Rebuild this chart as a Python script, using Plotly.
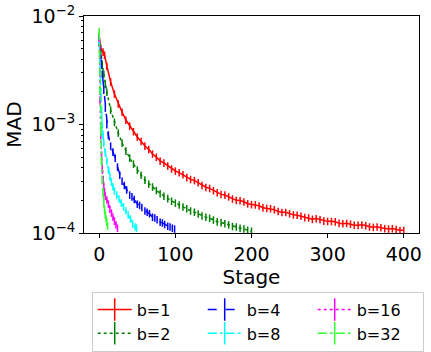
import plotly.graph_objects as go

# b=1
stage_b1 = [0, 2, 5, 7, 10, 15, 20, 25, 30, 35] + list(range(40, 401, 5))
mad_b1 = [6.5e-3, 5.07e-3, 4.66e-3, 4.37e-3, 3.46e-3, 2.47e-3, 1.91e-3, 1.55e-3, 1.30e-3,
          1.10e-3,
          9.68e-4, 8.6e-4, 7.67e-4, 7.0e-4, 6.34e-4, 5.9e-4, 5.35e-4, 5.0e-4, 4.61e-4,
          4.42e-4, 4.15e-4, 3.90e-4, 3.73e-4, 3.60e-4, 3.45e-4, 3.25e-4, 3.12e-4, 3.05e-4,
          2.92e-4, 2.75e-4, 2.64e-4, 2.58e-4, 2.46e-4, 2.36e-4, 2.27e-4, 2.24e-4, 2.16e-4,
          2.06e-4, 2.00e-4, 1.99e-4, 1.94e-4, 1.86e-4, 1.83e-4, 1.82e-4, 1.78e-4, 1.71e-4,
          1.69e-4, 1.68e-4, 1.64e-4, 1.58e-4, 1.55e-4, 1.55e-4, 1.51e-4, 1.47e-4, 1.46e-4,
          1.43e-4, 1.39e-4, 1.38e-4, 1.34e-4, 1.36e-4, 1.33e-4, 1.29e-4, 1.28e-4, 1.28e-4,
          1.27e-4, 1.23e-4, 1.22e-4, 1.23e-4, 1.21e-4, 1.18e-4, 1.18e-4, 1.19e-4, 1.17e-4,
          1.14e-4, 1.13e-4, 1.14e-4, 1.12e-4, 1.10e-4, 1.09e-4, 1.10e-4, 1.08e-4, 1.06e-4,
          1.06e-4]

# b=2
stage_b2 = [0, 2, 4, 6, 8, 10, 15, 20, 25, 30, 35, 40, 45, 50, 55, 60, 65, 70, 75, 80, 85,
            90, 95, 100, 105, 110, 115, 120, 125, 130, 135, 140, 145, 150, 155, 160, 165,
            170, 175, 180, 185, 190, 195, 200]
mad_b2 = [6.27e-3, 4.37e-3, 3.61e-3, 2.92e-3, 2.36e-3, 1.99e-3, 1.36e-3, 1.05e-3, 8.36e-4,
          6.76e-4, 5.70e-4, 4.91e-4, 4.32e-4, 3.81e-4, 3.42e-4, 3.08e-4, 2.83e-4, 2.66e-4,
          2.47e-4, 2.31e-4, 2.19e-4, 2.08e-4, 1.97e-4, 1.89e-4, 1.82e-4, 1.74e-4, 1.68e-4,
          1.60e-4, 1.56e-4, 1.50e-4, 1.44e-4, 1.40e-4, 1.37e-4, 1.32e-4, 1.27e-4, 1.25e-4,
          1.22e-4, 1.19e-4, 1.15e-4, 1.14e-4, 1.11e-4, 1.09e-4, 1.06e-4, 1.04e-4]

# b=4
stage_b4 = [0, 2, 4, 6, 8, 10, 12, 15, 18, 21, 24, 27, 30, 33, 36, 40, 43, 46, 50, 53, 56,
            60, 63, 66, 70, 73, 76, 80, 83, 86, 90, 93, 96, 99]
mad_b4 = [5.75e-3, 4.10e-3, 2.92e-3, 2.08e-3, 1.42e-3, 1.00e-3, 8.00e-4, 6.34e-4, 5.58e-4,
          4.91e-4, 4.06e-4, 3.42e-4, 3.01e-4, 2.75e-4, 2.50e-4, 2.24e-4, 2.16e-4, 2.04e-4,
          1.85e-4, 1.80e-4, 1.72e-4, 1.60e-4, 1.56e-4, 1.51e-4, 1.40e-4, 1.38e-4, 1.33e-4,
          1.26e-4, 1.24e-4, 1.20e-4, 1.16e-4, 1.14e-4, 1.11e-4, 1.09e-4]

# b=8
stage_b8 = [0, 1, 2, 3, 4, 5, 6, 8, 10, 12, 14, 16, 18, 20, 23, 26, 29, 32, 35, 38, 41, 44,
            47, 49]
mad_b8 = [6.0e-3, 3.18e-3, 1.99e-3, 1.36e-3, 9.89e-4, 7.83e-4, 6.76e-4, 5.46e-4, 4.61e-4,
          3.81e-4, 3.28e-4, 2.95e-4, 2.66e-4, 2.44e-4, 2.24e-4, 2.06e-4, 1.89e-4, 1.74e-4,
          1.60e-4, 1.47e-4, 1.35e-4, 1.21e-4, 1.14e-4, 1.11e-4]

# b=16
stage_b16 = [0, 1, 2, 3, 4, 5, 6, 7, 8, 10, 12, 14, 16, 18, 20, 22, 24]
mad_b16 = [6.27e-3, 1.68e-3, 8.0e-4, 5.24e-4, 3.81e-4, 3.08e-4, 2.66e-4, 2.39e-4, 2.19e-4,
           2.02e-4, 1.85e-4, 1.66e-4, 1.53e-4, 1.40e-4, 1.29e-4, 1.19e-4, 1.11e-4]

# b=32
stage_b32 = [0, 1, 2, 3, 4, 5, 6, 7, 8, 9, 10, 11]
mad_b32 = [7.2e-3, 2.08e-3, 8.89e-4, 4.71e-4, 3.08e-4, 2.34e-4, 1.89e-4, 1.63e-4, 1.47e-4,
           1.35e-4, 1.26e-4, 1.16e-4]

series = [
    ("b=1", stage_b1, mad_b1, "#ff0000", "solid", 1),
    ("b=2", stage_b2, mad_b2, "#008000", "dot", 4),
    ("b=4", stage_b4, mad_b4, "#0000ff", "dash", 2),
    ("b=8", stage_b8, mad_b8, "#00ffff", "dashdot", 5),
    ("b=16", stage_b16, mad_b16, "#ff00ff", "dot", 3),
    ("b=32", stage_b32, mad_b32, "#33ff33", "dashdot", 6),
]

fig = go.Figure()
for name, xs, ys, col, dash, rank in series:
    fig.add_trace(go.Scatter(
        x=xs, y=ys, mode="lines", showlegend=False,
        line=dict(color=col, width=1.5, dash=dash),
        error_y=dict(type="percent", value=8, color=col, thickness=1.5, width=0),
    ))
    # legend entry with vertical tick like matplotlib errorbar
    fig.add_trace(go.Scatter(
        x=[None], y=[None], mode="lines+markers", name=name, legendrank=rank,
        line=dict(color=col, width=1.5, dash=dash),
        marker=dict(symbol="line-ns", size=16, line=dict(color=col, width=1.5)),
    ))

minor_y = [m * 10.0 ** e for e in (-4, -3) for m in range(2, 10)]

fig.update_layout(
    width=431, height=352,
    margin=dict(l=84, r=12, t=16, b=119, autoexpand=False),
    plot_bgcolor="white", paper_bgcolor="white",
    font=dict(family="DejaVu Sans", color="black", size=19),
    legend=dict(
        orientation="h", x=0.023, y=-0.27, xanchor="left", yanchor="top",
        bordercolor="#cccccc", borderwidth=1, font=dict(size=16),
        entrywidth=61, entrywidthmode="pixels", itemwidth=34,
        tracegroupgap=0,
    ),
)
fig.update_xaxes(
    range=[-20, 420], tickvals=[0, 100, 200, 300, 400], automargin=False,
    showline=True, linecolor="black", linewidth=1, mirror=True,
    ticks="outside", ticklen=4, tickcolor="black", showgrid=False, zeroline=False,
    ticklabeloverflow="allow",
    title=dict(text="Stage", font=dict(size=20), standoff=0),
)
fig.update_yaxes(
    type="log", range=[-4, -2], automargin=False,
    tickvals=[1e-4, 1e-3, 1e-2],
    ticktext=["10<sup>−4</sup>", "10<sup>−3</sup>", "10<sup>−2</sup>"],
    showline=True, linecolor="black", linewidth=1, mirror=True,
    ticks="outside", ticklen=4, tickcolor="black", showgrid=False, zeroline=False,
    ticklabeloverflow="allow",
    minor=dict(tickvals=minor_y, ticks="outside", ticklen=2, tickcolor="black", showgrid=False),
    title=dict(text="MAD", font=dict(size=20), standoff=4),
)

# drop the default 8px body margin so the figure fills the window
fig.write_html("out.html", config={"displayModeBar": False},
               post_script="document.body.style.margin='0';")
